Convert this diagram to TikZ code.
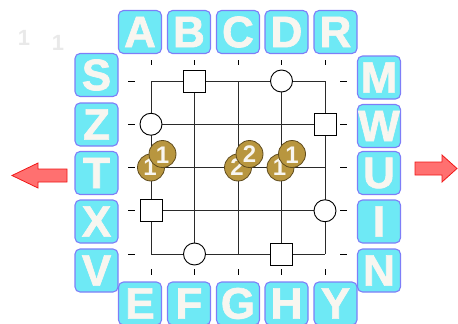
\documentclass[tikz,border=0pt]{standalone}
\usepackage{fontspec}
\setmainfont{Liberation Sans}
\newfontfamily\tilefont[UprightFont={* Bold},FakeBold=1.5]{Liberation Sans}
\newfontfamily\coinfont[UprightFont={* Bold}]{Liberation Sans}
\definecolor{tilefill}{HTML}{6EE9F5}
\definecolor{tileborder}{HTML}{7E7EF8}
\definecolor{letterc}{HTML}{F8F6F0}
\definecolor{coinfill}{HTML}{B8963F}
\definecolor{coinedge}{HTML}{5E4A1C}
\definecolor{arrowfill}{HTML}{FF7070}
\definecolor{arrowedge}{HTML}{F01818}
\definecolor{fadec}{HTML}{E9E9E9}
\definecolor{gridc}{HTML}{2A2A2A}
\tikzset{
  tile/.style={draw=tileborder, line width=1.1pt, fill=tilefill, rounded corners=5pt,
    minimum width=43pt, minimum height=43pt, inner sep=0pt, text=letterc,
    font=\tilefont\fontsize{44}{44}\selectfont},
  gridline/.style={draw=gridc, line width=1pt},
  tickmark/.style={draw=black, line width=0.9pt},
  sqmark/.style={draw=black, line width=0.9pt, fill=white, minimum size=22pt, inner sep=0pt, rectangle},
  circmark/.style={draw=black, line width=0.9pt, fill=white, minimum size=22pt, inner sep=0pt, circle},
  coin/.style={circle, draw=coinedge, line width=0.8pt, fill=coinfill, minimum size=27pt, inner sep=0pt},
  coindigit/.style={text=letterc, font=\coinfont\fontsize{24}{24}\selectfont, inner sep=0pt},
  fade/.style={text=fadec, font=\coinfont\fontsize{22}{22}\selectfont, inner sep=0pt},
  bigarrow/.style={fill=arrowfill, draw=arrowedge, line width=0.8pt, line join=miter}
}
\begin{document}
\begin{tikzpicture}[x=1pt,y=-1pt]
\useasboundingbox (0,0) rectangle (458,324);
% grid coordinates
\foreach \i/\x in {1/151,2/194.5,3/238,4/281.5,5/325}{
  \foreach \j/\y in {1/81,2/124.25,3/167.5,4/210.75,5/254}{
    \coordinate (g\i\j) at (\x,\y);
  }
}
% grid lines
\foreach \i in {1,...,5}{
  \draw[gridline] (g\i1) -- (g\i5);
  \draw[gridline] (g1\i) -- (g5\i);
}
% ticks
\foreach \i/\x in {1/151,2/194.5,3/238,4/281.5,5/325}{
  \coordinate (tt\i a) at (\x,60); \coordinate (tt\i b) at (\x,65);
  \draw[tickmark] (tt\i a) -- (tt\i b);
  \coordinate (tb\i a) at (\x,269); \coordinate (tb\i b) at (\x,275);
  \draw[tickmark] (tb\i a) -- (tb\i b);
}
\foreach \j/\y in {1/81,2/124.25,3/167.5,4/210.75,5/254}{
  \coordinate (tl\j a) at (128,\y); \coordinate (tl\j b) at (135,\y);
  \draw[tickmark] (tl\j a) -- (tl\j b);
  \coordinate (tr\j a) at (340,\y); \coordinate (tr\j b) at (347,\y);
  \draw[tickmark] (tr\j a) -- (tr\j b);
}
% markers
\node[sqmark] (s1) at (g21) {};
\node[sqmark] (s2) at (g52) {};
\node[sqmark] (s3) at (g14) {};
\node[sqmark] (s4) at (g45) {};
\node[circmark] (c1) at (g41) {};
\node[circmark] (c2) at (g12) {};
\node[circmark] (c3) at (g54) {};
\node[circmark] (c4) at (g25) {};
% coins (lower coin, its digit, upper coin, its digit)
\node[coin] (k1a) at (151,167.5) {};
\node[coindigit] (d1a) at (150,167.5) {1};
\node[coin] (k1b) at (162.5,154) {};
\node[coindigit] (d1b) at (162.5,155) {1};
\node[coin] (k2a) at (238,167.5) {};
\node[coindigit] (d2a) at (237,167) {2};
\node[coin] (k2b) at (249.5,154) {};
\node[coindigit] (d2b) at (249.5,154.5) {2};
\node[coin] (k3a) at (280.5,167.5) {};
\node[coindigit] (d3a) at (279.5,167.5) {1};
\node[coin] (k3b) at (292,154) {};
\node[coindigit] (d3b) at (292,155) {1};
% faded digits
\node[fade] (f1) at (24,38) {1};
\node[fade] (f2) at (58,42.5) {1};
% top tiles
\node[tile] (tA) at (140,32) {A};
\node[tile] (tB) at (189,32) {B};
\node[tile] (tC) at (238,32) {C};
\node[tile] (tD) at (286.5,32) {D};
\node[tile] (tR) at (335.5,32) {R};
% bottom tiles
\node[tile] (tE) at (140,303.5) {E};
\node[tile] (tF) at (189,303.5) {F};
\node[tile] (tG) at (238,303.5) {G};
\node[tile] (tH) at (286.5,303.5) {H};
\node[tile] (tY) at (335.5,303.5) {Y};
% left tiles
\node[tile] (tS) at (96.5,75) {S};
\node[tile] (tZ) at (96.5,124.5) {Z};
\node[tile] (tT) at (96.5,173) {T};
\node[tile] (tX) at (96.5,221.5) {X};
\node[tile] (tV) at (96.5,270.5) {V};
% right tiles
\node[tile] (tM) at (379,77.5) {M};
\node[tile] (tW) at (379,126) {W};
\node[tile] (tU) at (379,173) {U};
\node[tile] (tI) at (379,221.5) {I};
\node[tile] (tN) at (379,270.5) {N};
% arrows
\draw[bigarrow] (67,169) -- (38,169) -- (38,163) -- (12,175.5) -- (38,188) -- (38,182) -- (67,182) -- cycle;
\draw[bigarrow] (415,162) -- (442,162) -- (442,155) -- (457,168.5) -- (442,182) -- (442,175) -- (415,175) -- cycle;
\end{tikzpicture}
\end{document}
